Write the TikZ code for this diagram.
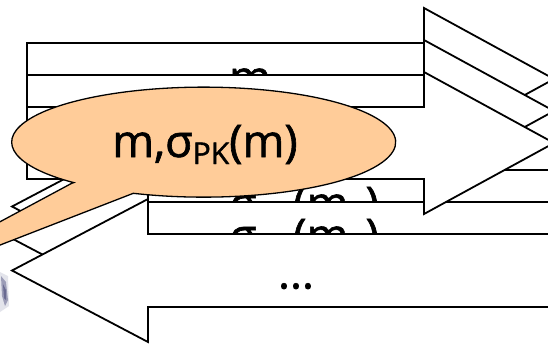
\documentclass[tikz,border=0pt]{standalone}
\usepackage{fontspec}
\setmainfont{Open Sans}[FakeBold=1.4]
\definecolor{peach}{RGB}{255,204,153}
\definecolor{photoblue}{RGB}{70,72,120}
\newcommand\mysub[1]{\raisebox{-7pt}{\fontsize{30}{30}\selectfont #1}}
\newcommand\rarrowshape[1]{%
  \path[arrowbox] (27,{#1-36}) -- (424,{#1-36}) -- (424,{#1-71}) -- (554,#1)
    -- (424,{#1+71}) -- (424,{#1+36}) -- (27,{#1+36}) -- cycle;}
\newcommand\larrowshape[1]{%
  \path[arrowbox] (570,{#1-36.5}) -- (148,{#1-36.5}) -- (148,{#1-71.5}) -- (12,#1)
    -- (148,{#1+71.5}) -- (148,{#1+36.5}) -- (570,{#1+36.5}) -- cycle;}
\begin{document}
\begin{tikzpicture}[x=1pt,y=-1pt,line width=1.8pt,line join=miter,
  arrowbox/.style={draw=black,fill=white},
  lbl/.style={font=\fontsize{45}{45}\selectfont,inner sep=0pt,anchor=base},
  bubble/.style={draw=black,line width=1.3pt,fill=peach}]
\useasboundingbox (0,0) rectangle (548,343);
\clip (0,0) rectangle (548,343);
% photo fragment at left edge
\fill[photoblue,opacity=0.15] (0,272) -- (8,276) -- (9,306) -- (0,312) -- cycle;
\fill[photoblue,opacity=0.45] (1,276) -- (6,282) -- (8,300) -- (5,306) -- (2,296) -- cycle;
\fill[photoblue,opacity=0.6] (3,284) -- (6,290) -- (6,300) -- (4,298) -- cycle;
% left-pointing arrows
\larrowshape{206.5}
\node[lbl] (l1) at (304,219) {σ\mysub{PK}(m\mysub{1})};
\larrowshape{238.5}
\node[lbl] (l2) at (304,251) {σ\mysub{PK}(m\mysub{2})};
\larrowshape{270.5}
\node[lbl] (l3) at (296,288.5) {...};
% right-pointing arrows
\rarrowshape{79}
\node[lbl] (r1) at (250,93) {m};
\rarrowshape{111}
\rarrowshape{143}
% speech bubble
\path[bubble] (71.7,183.3) -- (-157,306) -- (133.3,193.3)
  arc[start angle=248.5,end angle=587.4,x radius=192pt,y radius=55pt] -- cycle;
\node[lbl] (say) at (205,157) {m,σ\mysub{PK}(m)};
\end{tikzpicture}
\end{document}
